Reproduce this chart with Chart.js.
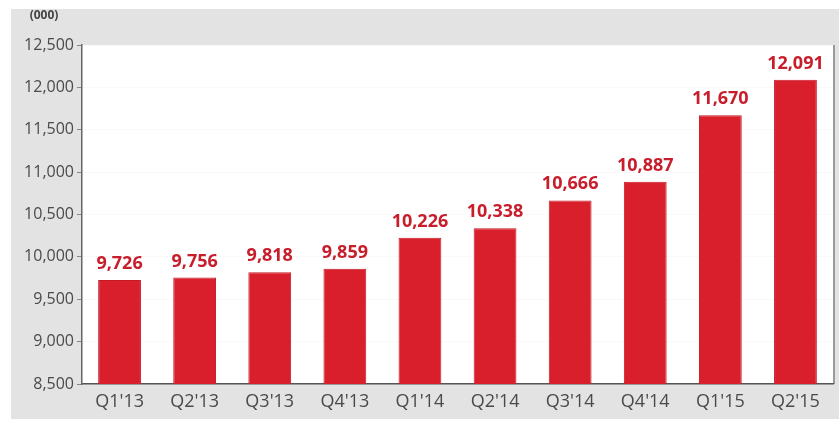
<!DOCTYPE html>
<html>
<head>
<meta charset="utf-8">
<script src="https://cdn.jsdelivr.net/npm/chart.js@4/dist/chart.umd.min.js"></script>
<style>
  html, body { margin: 0; padding: 0; background: #fff; }
  #wrap { width: 839px; height: 424px; position: relative; }
</style>
</head>
<body>
<div id="wrap"><canvas id="myChart" width="839" height="424"></canvas></div>
<script>
const quarters = ["Q1'13", "Q2'13", "Q3'13", "Q4'13", "Q1'14", "Q2'14", "Q3'14", "Q4'14", "Q1'15", "Q2'15"];
const subscribers = [9726, 9756, 9818, 9859, 10226, 10338, 10666, 10887, 11670, 12091];
const yMin = 8500;
const yMax = 12500;
const yStep = 500;

const fmt = (v) => v.toLocaleString("en-US");

// grey panel behind the axes, white plot area, unit caption
const panel = {
  id: "panel",
  beforeDraw(chart) {
    let { ctx, chartArea, width, height } = chart;
    ctx.save();
    ctx.fillStyle = "#fff";
    ctx.fillRect(0, 0, width, height);
    ctx.fillStyle = "#e3e3e3";
    ctx.fillRect(11, 9, width - 11, height - 14);
    ctx.fillStyle = "#fff";
    ctx.fillRect(chartArea.left, chartArea.top, chartArea.width, chartArea.height);
    ctx.fillStyle = "#9a9a9a";
    ctx.fillRect(chartArea.right, chartArea.top, 2, chartArea.height);
    ctx.fillStyle = "#444";
    ctx.font = "bold 12px 'Open Sans', sans-serif";
    ctx.textAlign = "center";
    ctx.textBaseline = "middle";
    ctx.fillText("(000)", 44, chartArea.top - 29);
    ctx.restore();
  },
};

// value labels above each bar
const barLabels = {
  id: "barLabels",
  afterDatasetsDraw(chart) {
    let { ctx } = chart;
    let meta = chart.getDatasetMeta(0);
    ctx.save();
    ctx.fillStyle = "#c81e2c";
    ctx.font = "bold 18px 'Open Sans', sans-serif";
    ctx.textAlign = "center";
    ctx.textBaseline = "alphabetic";
    meta.data.forEach((bar, i) => {
      ctx.fillText(fmt(subscribers[i]), bar.x, bar.y - 11);
    });
    ctx.restore();
  },
};

let ctx = document.getElementById("myChart").getContext("2d");

let myChart = new Chart(ctx, {
  type: "bar",
  data: {
    labels: quarters,
    datasets: [
      {
        data: subscribers,
        backgroundColor: "#d91f2b",
        borderColor: "#c41a26",
        borderWidth: 1,
        barPercentage: 0.57,
        categoryPercentage: 1,
      },
    ],
  },
  options: {
    responsive: false,
    animation: false,
    layout: { padding: { top: 45, right: 6, left: 0, bottom: 0 } },
    plugins: {
      legend: { display: false },
      tooltip: { enabled: false },
    },
    scales: {
      x: {
        grid: { display: false, drawTicks: false },
        border: { color: "#555", width: 1.5 },
        ticks: {
          color: "#4a4a4a",
          padding: 7,
          font: { family: "'Open Sans', sans-serif", size: 18 },
          maxRotation: 0,
          autoSkip: false,
        },
        afterFit(scale) {
          scale.height = 40;
        },
      },
      y: {
        min: yMin,
        max: yMax,
        border: { color: "#666", width: 1.5 },
        grid: {
          color: "rgba(0,0,0,0.025)",
          tickColor: "#888",
          tickLength: 5,
          drawOnChartArea: true,
        },
        ticks: {
          stepSize: yStep,
          color: "#4a4a4a",
          padding: 3,
          font: { family: "'Open Sans', sans-serif", size: 16 },
          callback: (v) => fmt(v),
        },
        afterFit(scale) {
          scale.width = 82;
        },
      },
    },
  },
  plugins: [panel, barLabels],
});
</script>
</body>
</html>
